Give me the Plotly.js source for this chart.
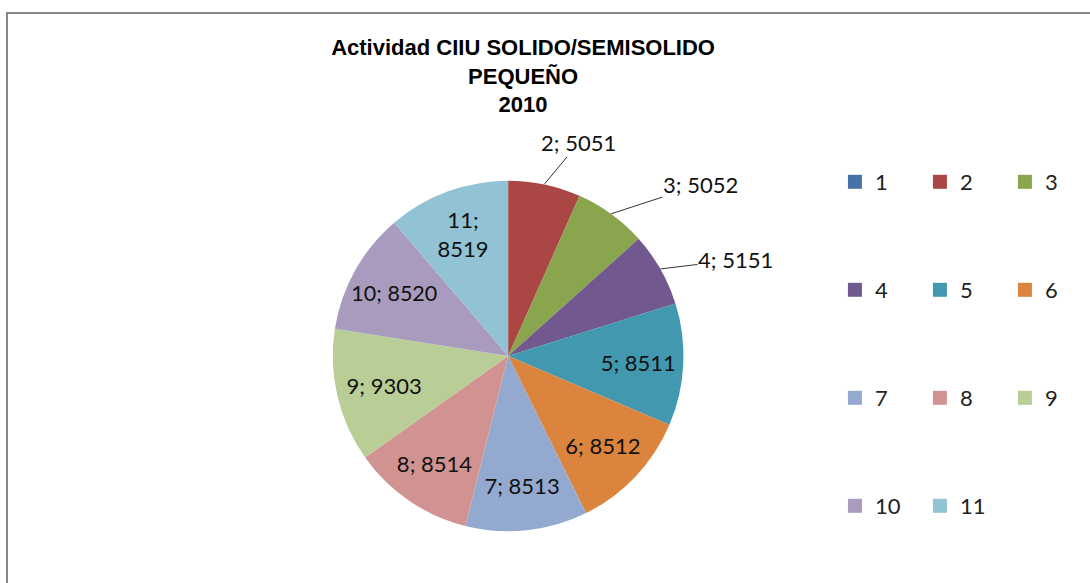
<!DOCTYPE html>
<html>
<head>
<meta charset="utf-8">
<script src="https://cdn.plot.ly/plotly-3.0.1.min.js"></script>
<style>html,body{margin:0;padding:0;background:#fff;}#chart{width:1090px;height:583px;}</style>
</head>
<body>
<div id="chart"></div>
<script>
// Data
const categories = ['1','2','3','4','5','6','7','8','9','10','11'];
const values = [0, 5051, 5052, 5151, 8511, 8512, 8513, 8514, 9303, 8520, 8519];
const sliceColors = ['#4672A8','#AA4643','#89A54E','#71588F','#4198AF','#DB843D','#93A9CF','#D19392','#B9CD96','#A99BBD','#92C3D4'];
// 'leader' = label drawn outside with a leader line
const labelPlacement = ['none','leader','leader','leader','inside','inside','inside','inside','inside','inside','inside'];
// pixel offsets of leader-line labels from the slice edge (style only)
const leaderOffsetX = [0, 34, 89, 75, 0, 0, 0, 0, 0, 0, 0];
const leaderOffsetY = [0, -41, -29, -9, 0, 0, 0, 0, 0, 0, 0];
const legendRows = [['1','2','3'],['4','5','6'],['7','8','9'],['10','11']];

const W = 1090, H = 583;
const px = v => v / W;
const py = v => 1 - v / H;

const labelText = categories.map((c, i) => c + (c === '11' ? ';<br>' : '; ') + values[i]);
const labelFont = {family: 'Lato, "Noto Sans", sans-serif', size: 22, color: '#111'};

// pie geometry (domain)
const dom = {x: [px(334), px(686)], y: [py(532), py(180)]};

const traces = [{
  type: 'pie',
  labels: categories,
  values: values,
  text: labelText,
  textinfo: 'text',
  hoverinfo: 'label+value',
  sort: false,
  direction: 'clockwise',
  rotation: 0,
  textposition: labelPlacement.map(p => p === 'inside' ? 'inside' : 'none'),
  insidetextorientation: 'horizontal',
  marker: {colors: sliceColors, line: {width: 0}},
  textfont: labelFont,
  showlegend: false,
  domain: dom
}];

// leader-line labels: anchored at the slice's mid-angle on the rim
const total = values.reduce((a, b) => a + b, 0);
const cxp = (dom.x[0] + dom.x[1]) / 2, cyp = (dom.y[0] + dom.y[1]) / 2;
const rx = (dom.x[1] - dom.x[0]) / 2, ry = (dom.y[1] - dom.y[0]) / 2;
const annotations = [];
let cum = 0;
values.forEach((v, i) => {
  const mid = (cum + v / 2) / total * 2 * Math.PI;
  cum += v;
  if (labelPlacement[i] !== 'leader') return;
  annotations.push({
    xref: 'paper', yref: 'paper',
    x: cxp + rx * Math.sin(mid), y: cyp + ry * Math.cos(mid),
    text: labelText[i], font: labelFont,
    showarrow: true, arrowhead: 0, arrowwidth: 1, arrowcolor: '#333',
    ax: leaderOffsetX[i], ay: leaderOffsetY[i], standoff: 0, borderpad: 0
  });
});

const legendIds = ['legend', 'legend2', 'legend3', 'legend4'];
const rowY = [182, 290, 398, 506];
legendRows.forEach((row, r) => {
  row.forEach(cat => {
    const idx = categories.indexOf(cat);
    traces.push({
      type: 'scatter', mode: 'markers', x: [null], y: [null],
      name: cat, legend: legendIds[r], showlegend: true, hoverinfo: 'skip',
      marker: {symbol: 'square', size: 14, color: sliceColors[idx]}
    });
  });
});

const legendBase = {
  orientation: 'h', xanchor: 'left', yanchor: 'middle',
  entrywidth: 40, entrywidthmode: 'pixels',
  bgcolor: 'rgba(0,0,0,0)', borderwidth: 0,
  font: {family: 'Lato, "Noto Sans", sans-serif', size: 22, color: '#222'}
};

const layout = {
  width: W, height: H,
  margin: {l: 0, r: 0, t: 0, b: 0},
  paper_bgcolor: '#fff', plot_bgcolor: '#fff',
  title: {
    text: 'Actividad CIIU SOLIDO/SEMISOLIDO<br>PEQUEÑO<br>2010',
    font: {family: '"Liberation Sans", Arial, sans-serif', size: 22, color: '#000', weight: 'bold'},
    x: px(525), xanchor: 'center', xref: 'paper',
    y: py(55), yanchor: 'top', yref: 'paper'
  },
  xaxis: {visible: false, showgrid: false, zeroline: false},
  yaxis: {visible: false, showgrid: false, zeroline: false},
  annotations: annotations,
  shapes: [{
    type: 'rect', xref: 'paper', yref: 'paper',
    x0: px(7), x1: px(1100), y0: py(600), y1: py(13),
    line: {color: '#878787', width: 2}, fillcolor: 'rgba(0,0,0,0)', layer: 'below'
  }]
};
legendIds.forEach((id, r) => {
  layout[id] = Object.assign({}, legendBase, {x: px(838), y: py(rowY[r])});
});

Plotly.newPlot('chart', traces, layout, {displayModeBar: false, staticPlot: true});
</script>
</body>
</html>
